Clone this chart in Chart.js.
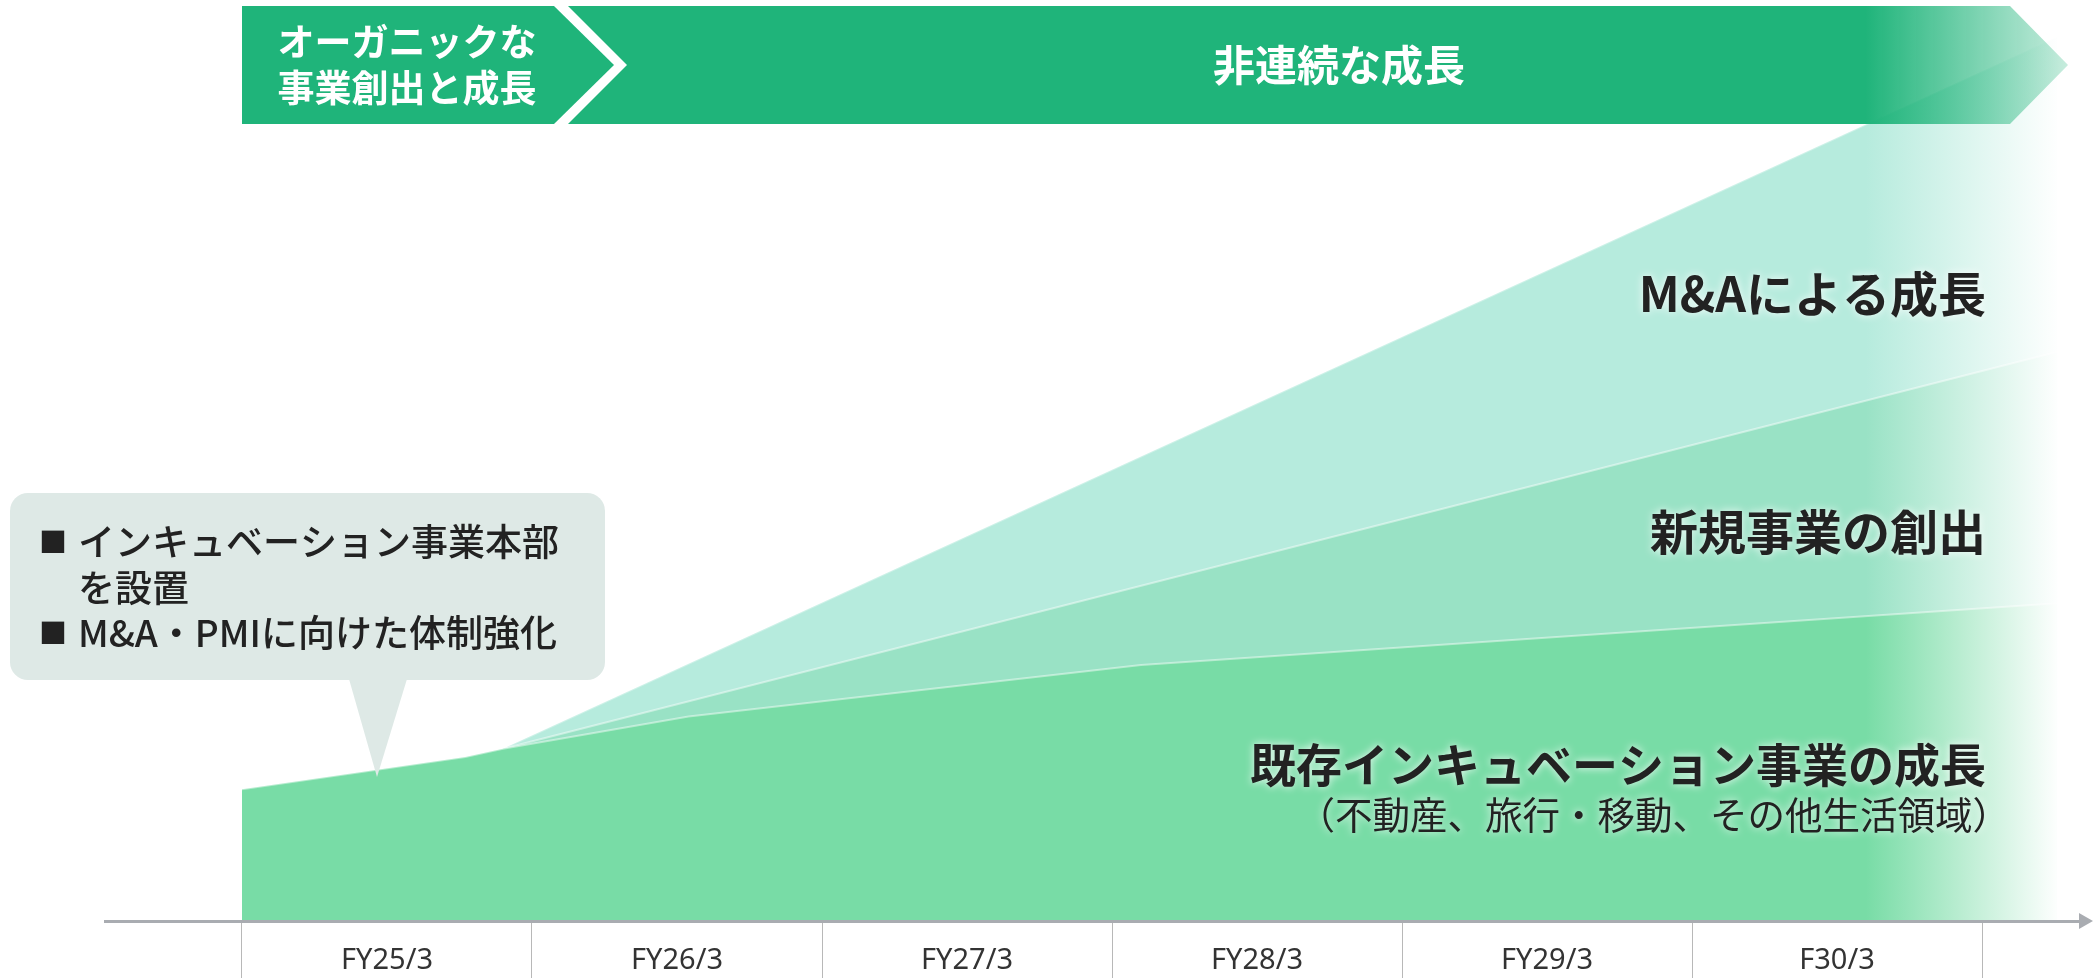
<!DOCTYPE html>
<html lang="ja">
<head>
<meta charset="utf-8">
<script src="https://cdn.jsdelivr.net/npm/chart.js@4/dist/chart.umd.min.js"></script>
<style>
  html, body { margin: 0; padding: 0; background: #fff; }
  #growthChart { display: block; }
</style>
</head>
<body>
<canvas id="growthChart" width="2093" height="978"></canvas>
<script>
// Fiscal years (one band each on the x axis)
const categories = ["FY25/3", "FY26/3", "FY27/3", "FY28/3", "FY29/3", "F30/3"];

// Existing incubation business (bottom layer), x in fiscal-year bands
const baseX = [0, 0.77, 0.9, 1.54, 3.1, 6.26];
const baseY = [14.3, 17.8, 18.7, 22.2, 27.8, 34.5];

// New business creation (middle layer)
const newBizX = [0.9, 6.26];
const newBizY = [18.7, 61.8];

// Growth through M&A (top layer)
const maX = [0.9, 6.26];
const maY = [18.7, 96.0];

const layerLabels = ["既存インキュベーション事業の成長", "新規事業の創出", "M&Aによる成長"];
const layerColors = ["#78dca6", "#99e2c5", "#b6ebdd"];

const calloutLines = ["インキュベーション事業本部", "を設置", "M&A・PMIに向けた体制強化"];

const JP = "'Noto Sans CJK JP', 'Noto Sans', sans-serif";
const axisGrey = "#a9acb1";

function toPoints(xs, ys) {
  return xs.map((x, i) => ({ x: x, y: ys[i] }));
}

// fade each layer to white towards the right end
function fadeFill(color) {
  return (context) => {
    const chart = context.chart;
    const area = chart.chartArea;
    if (!area) return color;
    const xs = chart.scales.x;
    const x0 = xs.getPixelForValue(5.6);
    const x1 = xs.getPixelForValue(6.27);
    const g = chart.ctx.createLinearGradient(x0, 0, x1, 0);
    g.addColorStop(0, color);
    g.addColorStop(1, "#ffffff");
    return g;
  };
}

const headerPlugin = {
  id: "header",
  afterDatasetsDraw(chart) {
    const ctx = chart.ctx;
    const top = 6, bottom = 124, mid = 65;
    ctx.save();
    ctx.fillStyle = "#1fb47a";
    // organic section
    ctx.beginPath();
    ctx.moveTo(242, top);
    ctx.lineTo(554, top);
    ctx.lineTo(614, mid);
    ctx.lineTo(554, bottom);
    ctx.lineTo(242, bottom);
    ctx.closePath();
    ctx.fill();
    // non-continuous section, fading at the right
    const g = ctx.createLinearGradient(1865, 0, 2068, 0);
    g.addColorStop(0, "rgba(31,180,122,1)");
    g.addColorStop(1, "rgba(31,180,122,0.25)");
    ctx.fillStyle = g;
    ctx.beginPath();
    ctx.moveTo(568, top);
    ctx.lineTo(2010, top);
    ctx.lineTo(2068, mid);
    ctx.lineTo(2010, bottom);
    ctx.lineTo(568, bottom);
    ctx.lineTo(627, mid);
    ctx.closePath();
    ctx.fill();

    ctx.fillStyle = "#ffffff";
    ctx.textAlign = "center";
    ctx.textBaseline = "middle";
    ctx.font = "700 37px " + JP;
    ctx.fillText("オーガニックな", 407, 42);
    ctx.fillText("事業創出と成長", 407, 88);
    ctx.font = "700 42px " + JP;
    ctx.fillText("非連続な成長", 1339, 65);

    // callout
    ctx.fillStyle = "#dee9e6";
    ctx.beginPath();
    ctx.roundRect(10, 493, 595, 187, 18);
    ctx.fill();
    ctx.beginPath();
    ctx.moveTo(349, 679);
    ctx.lineTo(407, 679);
    ctx.lineTo(377, 777);
    ctx.closePath();
    ctx.fill();

    ctx.fillStyle = "#222222";
    ctx.textAlign = "left";
    ctx.font = "400 28px " + JP;
    ctx.fillText("■", 39, 542);
    ctx.fillText("■", 39, 633);
    ctx.font = "500 37px " + JP;
    ctx.fillText(calloutLines[0], 78, 542);
    ctx.fillText(calloutLines[1], 78, 588);
    ctx.fillText(calloutLines[2], 78, 633);
    ctx.restore();
  },
  afterDraw(chart) {
    const ctx = chart.ctx;
    const area = chart.chartArea;
    ctx.save();
    // axis arrow head
    ctx.fillStyle = axisGrey;
    ctx.beginPath();
    ctx.moveTo(area.right - 1, area.bottom - 8);
    ctx.lineTo(2093, area.bottom);
    ctx.lineTo(area.right - 1, area.bottom + 8);
    ctx.closePath();
    ctx.fill();

    // layer labels
    ctx.fillStyle = "#222222";
    ctx.textAlign = "right";
    ctx.textBaseline = "middle";
    ctx.shadowColor = "rgba(255,255,255,0.9)";
    ctx.shadowBlur = 8;
    ctx.font = "700 48px " + JP;
    ctx.fillText(layerLabels[2], 1986, 294);
    ctx.fillText(layerLabels[1], 1986, 532);
    ctx.font = "700 46px " + JP;
    ctx.fillText(layerLabels[0], 1986, 765);
    ctx.font = "400 37.5px " + JP;
    ctx.fillText("（不動産、旅行・移動、その他生活領域）", 2010, 815);
    ctx.restore();
  }
};

new Chart(document.getElementById("growthChart"), {
  type: "line",
  data: {
    datasets: [
      {
        label: layerLabels[0],
        data: toPoints(baseX, baseY),
        backgroundColor: fadeFill(layerColors[0]),
        borderColor: "rgba(255,255,255,0.45)",
        borderWidth: 2,
        fill: "origin",
        order: 0
      },
      {
        label: layerLabels[1],
        data: toPoints(newBizX, newBizY),
        backgroundColor: fadeFill(layerColors[1]),
        borderColor: "rgba(255,255,255,0.45)",
        borderWidth: 2,
        fill: "origin",
        order: 1
      },
      {
        label: layerLabels[2],
        data: toPoints(maX, maY),
        backgroundColor: fadeFill(layerColors[2]),
        borderColor: "rgba(255,255,255,0.3)",
        borderWidth: 2,
        fill: "origin",
        order: 2
      }
    ]
  },
  options: {
    responsive: false,
    animation: false,
    layout: { padding: { left: 105, right: 13, top: 0, bottom: 0 } },
    elements: { point: { radius: 0 }, line: { tension: 0 } },
    plugins: { legend: { display: false }, tooltip: { enabled: false } },
    scales: {
      x: {
        type: "linear",
        min: -0.4724,
        max: 6.3379,
        afterBuildTicks(scale) {
          const t = [];
          for (let v = 0; v <= 6; v += 0.5) t.push({ value: v });
          scale.ticks = t;
        },
        afterFit(scale) { scale.height = 57; },
        ticks: {
          autoSkip: false,
          maxRotation: 0,
          padding: -35,
          color: "#333333",
          font: { family: "'Noto Sans', sans-serif", size: 29 },
          callback: (value) => (Number.isInteger(value) ? "" : categories[Math.floor(value)])
        },
        grid: {
          drawOnChartArea: false,
          drawTicks: true,
          tickLength: 57,
          lineWidth: 1,
          color: (ctx) => (ctx.tick && Number.isInteger(ctx.tick.value) ? "#b8b8b8" : "rgba(0,0,0,0)")
        },
        border: { display: true, color: axisGrey, width: 3, z: 1 }
      },
      y: {
        display: false,
        min: 0,
        max: 100
      }
    }
  },
  plugins: [headerPlugin]
});
</script>
</body>
</html>
